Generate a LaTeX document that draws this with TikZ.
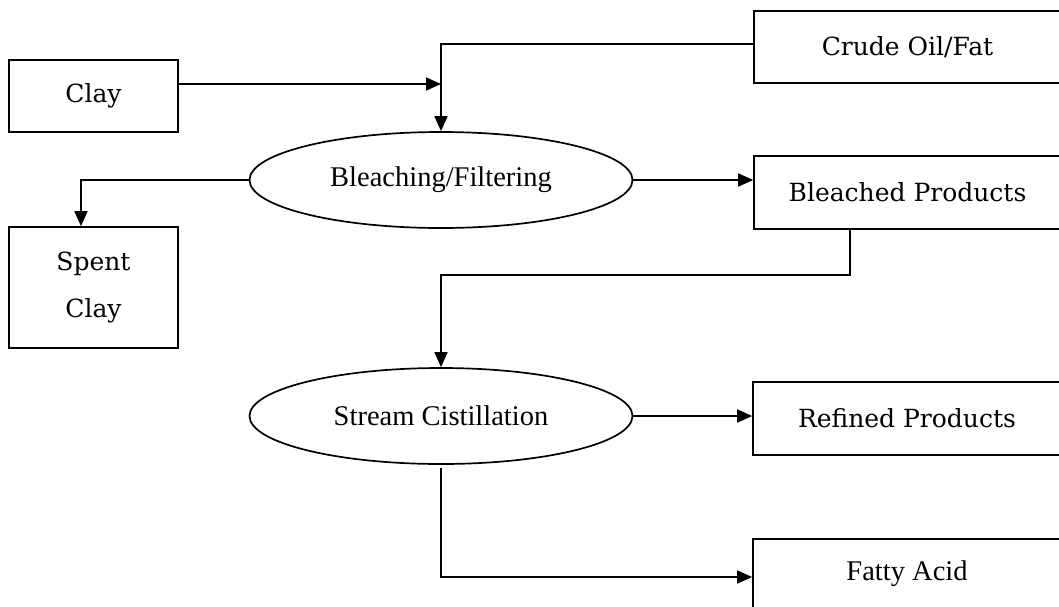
\documentclass[tikz,border=0pt]{standalone}
\usepackage{fontspec}
\setmainfont{Liberation Serif}
\newfontfamily\bookfont{DejaVu Serif}
\usetikzlibrary{arrows.meta,shapes.geometric}
\begin{document}
\begin{tikzpicture}[x=1pt,y=-1pt,line width=1.7pt,
  box/.style={draw,rectangle,inner sep=0pt,align=center,font=\bookfont\fontsize{25}{47}\selectfont},
  proc/.style={draw,ellipse,inner sep=0pt,minimum width=383pt,minimum height=96pt,font=\fontsize{28.5}{32}\selectfont},
  arr/.style={-{Triangle[length=15pt,width=13pt]}}]
\clip (0,0) rectangle (1059,606);
\fill[white] (0,0) rectangle (1059,606);
\node[box,minimum width=169pt,minimum height=72pt] (clay) at (93.5,96) {Clay};
\node[box,minimum width=307pt,minimum height=72pt] (crude) at (907.5,47) {Crude Oil/Fat};
\node[proc] (bf) at (441,180) {Bleaching/Filtering};
\node[box,minimum width=307pt,minimum height=73pt] (bp) at (907.5,192.5) {Bleached Products};
\node[box,minimum width=169pt,minimum height=121pt] (spent) at (93.5,287.5) {Spent\\Clay};
\node[proc] (sd) at (441,416) {Stream Cistillation};
\node[box,minimum width=308pt,minimum height=73pt] (rp) at (907,418.5) {Refined Products};
\node[box,minimum width=308pt,minimum height=70pt,font=\fontsize{28.5}{32}\selectfont] (fa) at (907,574) {Fatty Acid};
\coordinate (k1) at (850,275);
\draw[arr] ([yshift=12pt]clay.east) -- ([yshift=12pt]clay.east -| bf.north);
\draw[arr] ([yshift=3pt]crude.west) -| (bf.north);
\draw[arr] (bf.east) -- (bf.east -| bp.west);
\draw[arr] (bf.west) -| ([xshift=-12.5pt]spent.north);
\draw[arr] (bp.south -| k1) -- (k1) -| (sd.north);
\draw[arr] (sd.east) -- (sd.east -| rp.west);
\draw[arr] ([yshift=-3pt]sd.south) |- ([yshift=-3pt]fa.west);
\end{tikzpicture}
\end{document}
